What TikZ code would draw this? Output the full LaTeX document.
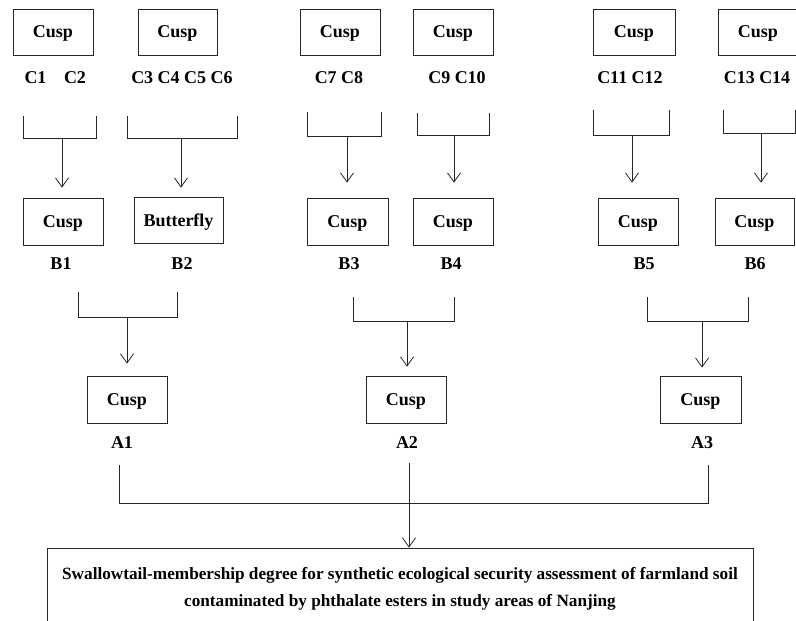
\documentclass[tikz,border=0pt]{standalone}
\usepackage{fontspec}
\setmainfont{Liberation Serif}
\usetikzlibrary{arrows.meta}
\newcommand\mybracket[6]{%
  \coordinate (#1l) at (#2,#4);
  \coordinate (#1r) at (#3,#4);
  \coordinate (#1s) at (#6,#5);
  \draw[conn] (#1l) -- (#1l |- #1s) -| (#1r);
}
\begin{document}
\begin{tikzpicture}[x=1pt,y=-1pt,
  box/.style={draw=black!85, line width=0.8pt, minimum width=80pt, minimum height=46pt,
    inner sep=0pt, text depth=0pt, font=\fontsize{18}{22}\selectfont\bfseries},
  lab/.style={inner sep=0pt, font=\fontsize{18}{22}\selectfont\bfseries},
  conn/.style={draw=black!85, line width=0.8pt},
  arr/.style={conn, -{Straight Barb[length=9pt,width=13pt]}}]
\useasboundingbox (0,0) rectangle (796,621);
\clip (0,0) rectangle (796,621);
% top row
\node[box] (tc1) at (53,32) {Cusp};
\node[box, minimum width=79pt] (tc2) at (177.5,32) {Cusp};
\node[box] (tc3) at (340,32) {Cusp};
\node[box] (tc4) at (453,32) {Cusp};
\node[box, minimum width=82pt] (tc5) at (634,32) {Cusp};
\node[box] (tc6) at (758,32) {Cusp};
% C labels
\node[lab] (lc1) at (35.5,78) {C1};
\node[lab] (lc2) at (75,78) {C2};
\node[lab] (lc3) at (182,78) {C3 C4 C5 C6};
\node[lab] (lc7) at (339,78) {C7 C8};
\node[lab] (lc9) at (457,78) {C9 C10};
\node[lab] (lc11) at (630,78) {C11 C12};
\node[lab] (lc13) at (757,78) {C13 C14};
% B row
\node[box, minimum height=47pt] (b1) at (63,221.5) {Cusp};
\node[box, minimum width=89pt] (b2) at (178.5,220) {Butterfly};
\node[box, minimum width=81pt, minimum height=47pt] (b3) at (347.5,221.5) {Cusp};
\node[box, minimum height=47pt] (b4) at (453,221.5) {Cusp};
\node[box, minimum height=47pt] (b5) at (638,221.5) {Cusp};
\node[box, minimum width=79pt, minimum height=47pt] (b6) at (754.5,221.5) {Cusp};
% B labels
\node[lab] (lb1) at (61,264) {B1};
\node[lab] (lb2) at (182,264) {B2};
\node[lab] (lb3) at (349,264) {B3};
\node[lab] (lb4) at (451,264) {B4};
\node[lab] (lb5) at (644,264) {B5};
\node[lab] (lb6) at (755,264) {B6};
% A row
\node[box, minimum height=47pt] (a1) at (127,399.5) {Cusp};
\node[box, minimum height=47pt] (a2) at (406,399.5) {Cusp};
\node[box, minimum width=81pt, minimum height=47pt] (a3) at (700.5,399.5) {Cusp};
\node[lab] (la1) at (122,443) {A1};
\node[lab] (la2) at (407,443) {A2};
\node[lab] (la3) at (702,443) {A3};
% goal
\node[draw=black!85, line width=0.8pt, minimum width=706pt, minimum height=82pt,
  inner sep=0pt, align=center, font=\fontsize{17.2}{27}\selectfont\bfseries]
  (g) at (400,589) {Swallowtail-membership degree for synthetic ecological security assessment of farmland soil\\
  contaminated by phthalate esters in study areas of Nanjing};
% brackets C -> B
\mybracket{k1}{23}{96}{116}{138}{62}
\mybracket{k2}{127}{237}{116}{138}{181}
\mybracket{k3}{307}{381}{112}{136}{347}
\mybracket{k4}{417}{489}{113}{135}{454}
\mybracket{k5}{593}{669}{110}{135}{632}
\mybracket{k6}{723}{795}{110}{133}{761}
\draw[arr, shorten >=10pt] (k1s) -- (k1s |- b1.north);
\draw[arr, shorten >=9pt] (k2s) -- (k2s |- b2.north);
\draw[arr, shorten >=15pt] (k3s) -- (k3s |- b3.north);
\draw[arr, shorten >=15pt] (k4s) -- (k4s |- b4.north);
\draw[arr, shorten >=15pt] (k5s) -- (k5s |- b5.north);
\draw[arr, shorten >=15pt] (k6s) -- (k6s |- b6.north);
% brackets B -> A
\mybracket{m1}{78}{177}{292}{317}{127}
\mybracket{m2}{353}{454}{297}{321}{407}
\mybracket{m3}{647}{748}{297}{321}{702}
\draw[arr, shorten >=12pt] (m1s) -- (m1s |- a1.north);
\draw[arr, shorten >=9pt] (m2s) -- (m2s |- a2.north);
\draw[arr, shorten >=8pt] (m3s) -- (m3s |- a3.north);
% bracket A -> goal
\mybracket{n}{119}{708}{465}{503}{409}
\coordinate (nt) at (409,463);
\draw[arr] (nt) -- (nt |- g.north);
\end{tikzpicture}
\end{document}
